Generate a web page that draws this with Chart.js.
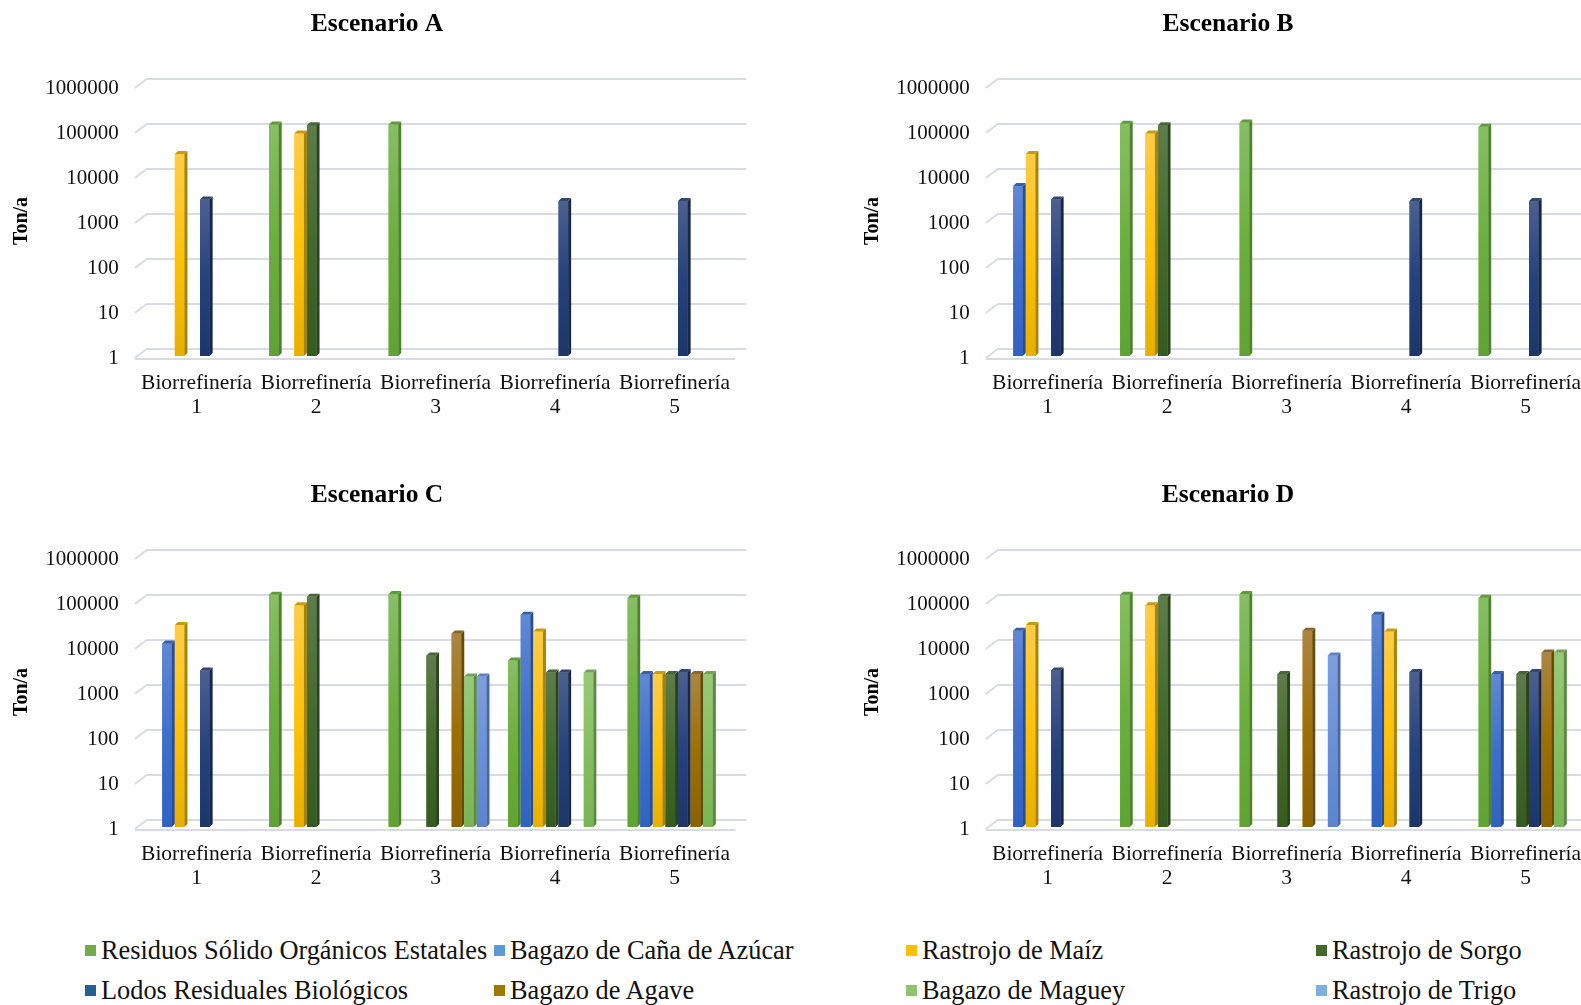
<!DOCTYPE html>
<html lang="es">
<head>
<meta charset="utf-8">
<title>Escenarios de biorrefinerías</title>
<script src="https://cdn.jsdelivr.net/npm/chart.js@4.4.1/dist/chart.umd.min.js"></script>
<style>
  html, body { margin: 0; padding: 0; background: #fff; }
  body { width: 1581px; height: 1005px; overflow: hidden; position: relative; }
  .panel { position: absolute; width: 754px; height: 440px; }
  .panel canvas { display: block; }
  .ley { position: absolute; height: 28px; display: flex; align-items: center; white-space: nowrap;
         font-family: "Liberation Serif", "Times New Roman", serif; font-size: 28px; color: #111; line-height: 28px; }
  .ley i { display: inline-block; width: 11px; height: 11px; margin-right: 5px; flex: none; }
  .ley span { display: inline-block; transform: scaleX(0.94); transform-origin: left center; }
</style>
</head>
<body>
<div class="panel" style="left:0;top:0"><canvas id="cA" width="754" height="440"></canvas></div>
<div class="panel" style="left:851px;top:0"><canvas id="cB" width="754" height="440"></canvas></div>
<div class="panel" style="left:0;top:471px"><canvas id="cC" width="754" height="440"></canvas></div>
<div class="panel" style="left:851px;top:471px"><canvas id="cD" width="754" height="440"></canvas></div>
<div id="leyenda"></div>

<script>
// Categorías (dos líneas por etiqueta)
const categorias = [
  ["Biorrefinería", "1"],
  ["Biorrefinería", "2"],
  ["Biorrefinería", "3"],
  ["Biorrefinería", "4"],
  ["Biorrefinería", "5"]
];

// Biomasas (series)
const biomasas = [
  "Residuos Sólido Orgánicos Estatales",
  "Bagazo de Caña de Azúcar",
  "Rastrojo de Maíz",
  "Rastrojo de Sorgo",
  "Lodos Residuales Biológicos",
  "Bagazo de Agave",
  "Bagazo de Maguey",
  "Rastrojo de Trigo"
];

// Marcas del eje logarítmico
const marcasY = [1, 10, 100, 1000, 10000, 100000, 1000000];

// Ton/a por biomasa (fila) y biorrefinería (columna); null = sin aporte
const escenarioA = [
  [null, 140000, 140000, null, null],
  [null, null, null, null, null],
  [31000, 88000, null, null, null],
  [null, 135000, null, null, null],
  [3000, null, null, 2800, 2800],
  [null, null, null, null, null],
  [null, null, null, null, null],
  [null, null, null, null, null]
];
const escenarioB = [
  [null, 145000, 155000, null, 125000],
  [6000, null, null, null, null],
  [31000, 88000, null, null, null],
  [null, 135000, null, null, null],
  [3000, null, null, 2800, 2800],
  [null, null, null, null, null],
  [null, null, null, null, null],
  [null, null, null, null, null]
];
const escenarioC = [
  [null, 145000, 150000, 5000, 125000],
  [12000, null, null, 52000, 2500],
  [31000, 85000, null, 22000, 2500],
  [null, 130000, 6500, 2700, 2500],
  [3000, null, null, 2700, 2800],
  [null, null, 20000, null, 2500],
  [null, null, 2200, 2700, 2500],
  [null, null, 2200, null, null]
];
const escenarioD = [
  [null, 145000, 150000, null, 125000],
  [23000, null, null, 52000, 2500],
  [31000, 85000, null, 22000, null],
  [null, 130000, 2500, null, 2500],
  [3000, null, null, 2800, 2800],
  [null, null, 23000, null, 7500],
  [null, null, null, null, 7500],
  [null, null, 6500, null, null]
];

// Colores: [arriba, medio, abajo, lateral, tapa]
const paletas = [
  ['#88be65', '#6cae3f', '#60a233', '#4c8529', '#5f9a3c'],
  ['#6089d4', '#3e6fcb', '#2f63c2', '#294e94', '#3a5fa8'],
  ['#ffcc48', '#ffc20a', '#e8af00', '#a88300', '#c99a10'],
  ['#5f7c4c', '#436a2b', '#355b20', '#2a4419', '#47653a'],
  ['#4c608f', '#26427c', '#1c3669', '#15284c', '#33466f'],
  ['#ab8544', '#9d7006', '#8b6200', '#684a00', '#86662a'],
  ['#98c979', '#86be63', '#79b454', '#5c8a42', '#74a356'],
  ['#7e9fdd', '#6c90d7', '#5c83ce', '#4868a4', '#6280be']
];
const coloresLeyenda = ['#70ad47', '#5b9bd5', '#ffc000', '#43682b', '#255e91', '#9e7800', '#8fc46f', '#7cafdd'];

const SERIF = '"Liberation Serif", "Times New Roman", serif';

// Plano de fondo: líneas de división con su arista oblicua y borde del piso
const fondo3D = {
  id: 'fondo3D',
  beforeDatasetsDraw(chart) {
    const { ctx, chartArea } = chart;
    const { left, right } = chartArea;
    const y = chart.scales.y;
    ctx.save();
    ctx.strokeStyle = '#d9dbe4';
    ctx.lineWidth = 2;
    marcasY.forEach(v => {
      const py = y.getPixelForValue(v);
      ctx.beginPath();
      ctx.moveTo(left - 4, py + 2);
      ctx.lineTo(left + 8, py - 7);
      ctx.lineTo(right + 10, py - 7);
      ctx.stroke();
    });
    const p0 = y.getPixelForValue(1);
    ctx.beginPath();
    ctx.moveTo(left - 4, p0 + 3);
    ctx.lineTo(right - 1, p0 + 3);
    ctx.stroke();
    ctx.restore();
  }
};

// Columnas con volumen: cara frontal degradada, lateral y tapa
const caras3D = {
  id: 'caras3D',
  afterDatasetsDraw(chart) {
    const ctx = chart.ctx;
    const d = 3;
    chart.data.datasets.forEach((ds, i) => {
      const meta = chart.getDatasetMeta(i);
      const pal = paletas[i];
      meta.data.forEach((el, j) => {
        if (ds.data[j] == null) return;
        const { x, y, base, width } = el.getProps(['x', 'y', 'base', 'width'], true);
        const l = x - width / 2, r = x + width / 2;
        ctx.save();
        const g = ctx.createLinearGradient(0, y, 0, base);
        g.addColorStop(0, pal[0]);
        g.addColorStop(0.5, pal[1]);
        g.addColorStop(1, pal[2]);
        ctx.fillStyle = g;
        ctx.fillRect(l, y, width, base - y);
        ctx.fillStyle = pal[3];
        ctx.beginPath();
        ctx.moveTo(r, y); ctx.lineTo(r + d, y - d); ctx.lineTo(r + d, base - d); ctx.lineTo(r, base);
        ctx.closePath(); ctx.fill();
        ctx.fillStyle = pal[4];
        ctx.beginPath();
        ctx.moveTo(l, y); ctx.lineTo(l + d, y - d); ctx.lineTo(r + d, y - d); ctx.lineTo(r, y);
        ctx.closePath(); ctx.fill();
        ctx.restore();
      });
    });
  }
};

function crearPanel(id, titulo, valores) {
  const datasets = biomasas.map((nombre, i) => ({
    label: nombre,
    data: valores[i],
    backgroundColor: paletas[i][1],
    borderWidth: 0,
    barPercentage: 0.76,
    categoryPercentage: 0.844
  }));
  return new Chart(document.getElementById(id), {
    type: 'bar',
    data: { labels: categorias, datasets },
    plugins: [fondo3D, caras3D],
    options: {
      responsive: false,
      animation: false,
      events: [],
      layout: { padding: { left: 17.7, right: 17.7, top: 0, bottom: 0 } },
      plugins: {
        legend: { display: false },
        tooltip: { enabled: false },
        title: {
          display: true,
          text: titulo,
          color: '#000',
          font: { family: SERIF, size: 25.5, weight: 'bold', lineHeight: 1.2 },
          padding: { top: 9, bottom: 46.4 }
        }
      },
      scales: {
        x: {
          grid: { display: false, drawTicks: false },
          border: { display: false },
          ticks: {
            color: '#111',
            font: { family: SERIF, size: 21.5, lineHeight: 1.116 },
            padding: 15,
            labelOffset: -2,
            maxRotation: 0,
            autoSkip: false
          },
          afterFit(s) { s.height = 84; }
        },
        y: {
          type: 'logarithmic',
          min: 1,
          max: 1000000,
          grid: { display: false, drawTicks: false },
          border: { display: false },
          ticks: {
            color: '#111',
            font: { family: SERIF, size: 21 },
            padding: 20,
            labelOffset: 2,
            callback: v => String(v)
          },
          afterBuildTicks(s) { s.ticks = marcasY.map(v => ({ value: v })); },
          afterFit(s) { s.width = 121.1; },
          title: {
            display: true,
            text: 'Ton/a',
            color: '#000',
            font: { family: SERIF, size: 20, weight: 'bold', lineHeight: 1.2 },
            padding: { top: -7.5, bottom: 0 }
          }
        }
      }
    }
  });
}

crearPanel('cA', 'Escenario A', escenarioA);
crearPanel('cB', 'Escenario B', escenarioB);
crearPanel('cC', 'Escenario C', escenarioC);
crearPanel('cD', 'Escenario D', escenarioD);

// Leyenda común en dos filas de cuatro columnas
const columnas = [85, 494, 906, 1316];
const filas = [936, 976];
const ley = document.getElementById('leyenda');
biomasas.forEach((nombre, i) => {
  const item = document.createElement('div');
  item.className = 'ley';
  item.style.left = columnas[i % 4] + 'px';
  item.style.top = filas[Math.floor(i / 4)] + 'px';
  const sw = document.createElement('i');
  sw.style.background = coloresLeyenda[i];
  const tx = document.createElement('span');
  tx.textContent = nombre;
  item.appendChild(sw);
  item.appendChild(tx);
  ley.appendChild(item);
});
</script>
</body>
</html>
